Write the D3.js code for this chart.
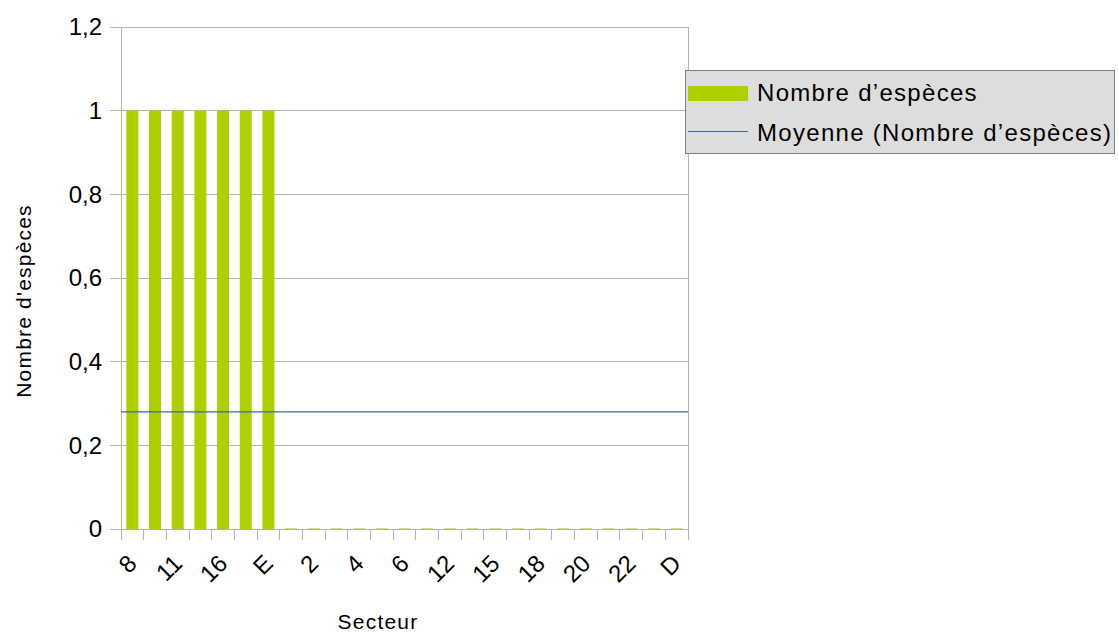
<!DOCTYPE html>
<html><head><meta charset="utf-8">
<script src="https://cdn.jsdelivr.net/npm/d3@7"></script>
<style>body{margin:0;background:#fff}svg{display:block;font-family:"Liberation Sans",Arial,sans-serif}</style>
</head><body><svg id="c" width="1119" height="634"></svg>
<script>
const categories = ["8","9","11","14","16","A","E","1","2","3","4","5","6","7","12","13","15","17","18","19","20","21","22","C","D"];
const values = [1,1,1,1,1,1,1,0,0,0,0,0,0,0,0,0,0,0,0,0,0,0,0,0,0];
const yTicks = [0,0.2,0.4,0.6,0.8,1,1.2];
const seriesName = "Nombre d’espèces";
const meanName = "Moyenne (Nombre d’espèces)";
const xTitle = "Secteur";
const yTitle = "Nombre d'espèces";
const mean = d3.mean(values);

const svg = d3.select("#c");
const L=121,R=688,T=27,B=529;
const x = d3.scaleBand().domain(categories).range([L,R]).paddingInner(0.47).paddingOuter(0.235);
const xb = d3.scaleBand().domain(categories).range([L,R]);
const y = d3.scaleLinear().domain([0,1.2]).range([B,T]);
const fmt = d => d3.format("")(+d.toFixed(1)).replace(".",",");

// grid
svg.append("g").selectAll("line").data(yTicks).join("line")
 .attr("x1",L-11).attr("x2",R).attr("y1",d=>y(d)).attr("y2",d=>y(d))
 .attr("stroke","#b3b3b3").attr("stroke-width",1).attr("shape-rendering","crispEdges");
svg.append("line").attr("x1",L).attr("x2",L).attr("y1",T).attr("y2",B+11).attr("stroke","#b3b3b3").attr("shape-rendering","crispEdges");
svg.append("line").attr("x1",R).attr("x2",R).attr("y1",T).attr("y2",B+11).attr("stroke","#b3b3b3").attr("shape-rendering","crispEdges");
svg.append("g").selectAll("line").data(categories).join("line")
 .attr("x1",d=>xb(d)).attr("x2",d=>xb(d)).attr("y1",B).attr("y2",B+11)
 .attr("stroke","#b3b3b3").attr("shape-rendering","crispEdges");

// y labels
svg.append("g").selectAll("text").data(yTicks).join("text")
 .attr("x",L-19).attr("y",d=>y(d)).attr("dy","0.35em").attr("text-anchor","end")
 .attr("font-size",24).attr("fill","#000").text(fmt);

// bars
svg.append("g").selectAll("rect").data(categories).join("rect")
 .attr("x",d=>x(d)).attr("width",x.bandwidth())
 .attr("y",(d,i)=>y(values[i])).attr("height",(d,i)=>y(0)-y(values[i]))
 .attr("fill","#aecf00");
svg.append("g").selectAll("line").data(categories.filter((d,i)=>values[i]===0)).join("line")
 .attr("x1",d=>x(d)).attr("x2",d=>x(d)+x.bandwidth()).attr("y1",y(0)-0.5).attr("y2",y(0)-0.5)
 .attr("stroke","#aecf00").attr("stroke-opacity",0.6).attr("stroke-width",1);

// mean line
svg.append("line").attr("x1",L).attr("x2",R).attr("y1",y(mean)).attr("y2",y(mean))
 .attr("stroke","#3c6a96").attr("stroke-width",1.2);

// x labels every other
svg.append("g").selectAll("text").data(categories.filter((d,i)=>i%2===0)).join("text")
 .attr("transform",d=>`translate(${x(d)+x.bandwidth()/2},${B+30}) rotate(-45)`)
 .attr("text-anchor","end").attr("dy","0.35em").attr("font-size",24).attr("fill","#000").text(d=>d);

// titles
svg.append("text").attr("x",378).attr("y",629).attr("text-anchor","middle").attr("font-size",21).attr("letter-spacing",1.2).text(xTitle);
svg.append("text").attr("transform",`translate(31,301) rotate(-90)`).attr("text-anchor","middle").attr("font-size",21).attr("letter-spacing",1.2).text(yTitle);

// legend
const lg = svg.append("g");
lg.append("rect").attr("x",685.5).attr("y",70.5).attr("width",429).attr("height",83)
 .attr("fill","#dddddd").attr("stroke","#7f7f7f");
lg.append("rect").attr("x",688).attr("y",86).attr("width",60).attr("height",15).attr("fill","#aecf00");
lg.append("line").attr("x1",688).attr("x2",748).attr("y1",131.5).attr("y2",131.5).attr("stroke","#3c6a96").attr("stroke-width",1.2);
lg.append("text").attr("x",757).attr("y",93).attr("dy","0.35em").attr("font-size",24).attr("letter-spacing",1.3).text(seriesName);
lg.append("text").attr("x",757).attr("y",133).attr("dy","0.35em").attr("font-size",24).attr("letter-spacing",1.3).text(meanName);
</script></body></html>
